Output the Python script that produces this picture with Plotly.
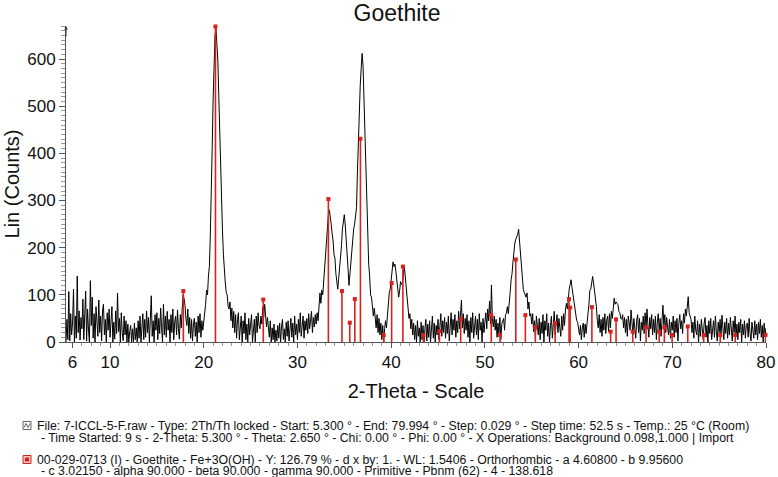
import numpy as np
import plotly.graph_objects as go

# ---- scan grid (from the header: start 5.300 deg); sampled every 0.1 deg for this redraw
scan_start = 5.3
scan_step = 0.1

counts = [
    0, 48, 5, 107, 2, 60, 15,                        # 5.3-5.9
    40, 112, 0, 55, 8, 140, 20, 66, 4, 52,           # 6
    28, 91, 5, 58, 108, 2, 70, 25, 0, 130,           # 7
    35, 95, 8, 60, 0, 75, 40, 12, 89, 20,            # 8
    55, 2, 68, 80, 15, 48, 0, 62, 25, 70,            # 9
    10, 58, 75, 0, 42, 6, 66, 18, 104, 22,           # 10
    50, 0, 62, 20, 3, 55, 15, 45, 0, 38,             # 11
    0, 22, 35, 0, 28, 0, 40, 5, 30, 0,               # 12
    45, 8, 55, 0, 38, 60, 5, 48, 10, 66,             # 13
    20, 52, 0, 70, 98, 12, 45, 0, 58, 25,            # 14
    62, 5, 50, 18, 72, 30, 0, 80, 15, 55,            # 15
    10, 65, 25, 48, 0, 58, 20, 70, 5, 42,            # 16
    55, 15, 68, 28, 6, 58, 30, 70, 100, 92,          # 17
    78, 50, 35, 70, 18, 52, 8, 48, 2, 38,            # 18
    50, 12, 42, 0, 55, 20, 60, 10, 45, 25,           # 19
    40, 62, 80, 110, 100, 140, 160, 225, 300, 410,   # 20
    514, 600, 650, 665, 640, 600, 525, 443, 370, 300,  # 21
    235, 185, 145, 125, 105, 100, 75, 70, 85, 45,    # 22
    72, 30, 65, 20, 58, 8, 48, 62, 5, 40,            # 23
    55, 0, 45, 18, 62, 5, 38, 0, 50, 15,             # 24
    40, 58, 0, 35, 48, 0, 55, 20, 62, 35,            # 25
    28, 55, 38, 75, 52, 80, 58, 32, 52, 20,          # 26
    10, 45, 0, 30, 5, 38, 0, 25, 2, 35,              # 27
    8, 40, 0, 32, 48, 5, 28, 0, 42, 12,              # 28
    45, 2, 35, 50, 10, 40, 0, 55, 15, 38,            # 29
    5, 48, 20, 62, 12, 40, 55, 8, 45, 25,            # 30
    50, 18, 60, 28, 45, 65, 20, 52, 32, 58,          # 31
    38, 62, 45, 80, 104, 82, 110, 100, 130, 155,     # 32
    200, 225, 260, 270, 280, 255, 250, 230, 215, 185,  # 33
    178, 145, 125, 112, 135, 155, 185, 205, 240, 262,  # 34
    270, 248, 222, 185, 155, 120, 145, 170, 200, 218,  # 35
    240, 250, 272, 285, 360, 440, 505, 545, 580, 612,  # 36
    585, 518, 415, 340, 275, 215, 165, 140, 100, 95,   # 37
    70, 55, 72, 45, 30, 58, 20, 50, 15, 40,          # 38
    5, 35, 0, 28, 45, 30, 60, 80, 105, 112,          # 39
    135, 145, 170, 160, 165, 150, 130, 100, 95, 108,  # 40
    128, 122, 125, 140, 160, 140, 118, 85, 70, 50,   # 41
    60, 28, 48, 15, 40, 5, 35, 0, 45, 12,            # 42
    30, 0, 42, 5, 35, 0, 28, 48, 2, 38,              # 43
    10, 45, 0, 32, 55, 8, 40, 0, 35, 15,             # 44
    48, 5, 38, 60, 12, 45, 20, 52, 8, 42,            # 45
    18, 55, 2, 40, 62, 15, 48, 25, 58, 10,           # 46
    45, 20, 65, 28, 55, 89, 30, 60, 18, 50,          # 47
    25, 58, 10, 45, 0, 52, 20, 62, 8, 40,            # 48
    55, 15, 48, 5, 60, 25, 42, 0, 50, 20,            # 49
    45, 62, 28, 70, 45, 87, 38, 121, 50, 32,         # 50
    55, 25, 48, 10, 40, 18, 52, 5, 38, 45,           # 51
    50, 25, 58, 61, 75, 60, 95, 105, 132, 145,       # 52
    170, 192, 210, 218, 222, 228, 239, 210, 190, 155,  # 53
    140, 112, 105, 100, 95, 104, 70, 85, 55, 60,     # 54
    38, 60, 22, 45, 10, 55, 28, 15, 50, 5,           # 55
    42, 18, 58, 0, 45, 25, 60, 12, 40, 0,            # 56
    35, 55, 8, 48, 65, 15, 42, 58, 20, 50,           # 57
    30, 12, 55, 25, 60, 35, 68, 82, 70, 95,          # 58
    112, 122, 132, 115, 102, 89, 70, 62, 45, 42,     # 59
    30, 15, 35, 5, 30, 40, 10, 38, 18, 50,           # 60
    60, 78, 110, 112, 130, 139, 125, 110, 85, 75,    # 61
    45, 30, 58, 20, 48, 12, 52, 25, 60, 18,          # 62
    45, 55, 22, 60, 30, 65, 50, 72, 93, 80,          # 63
    85, 82, 79, 65, 62, 50, 48, 58, 30, 52,          # 64
    20, 48, 12, 55, 30, 25, 68, 35, 15, 50,          # 65
    28, 8, 45, 58, 20, 50, 2, 42, 25, 55,            # 66
    18, 62, 30, 70, 35, 10, 52, 28, 58, 15,          # 67
    48, 20, 55, 5, 42, 60, 25, 50, 12, 65,           # 68
    78, 35, 58, 20, 52, 30, 15, 48, 8, 42,           # 69
    25, 55, 10, 45, 20, 50, 2, 40, 58, 28,           # 70
    45, 18, 60, 40, 70, 55, 85, 96, 62, 55,          # 71
    48, 20, 42, 8, 55, 25, 15, 45, 0, 38,            # 72
    12, 48, 20, 5, 40, 52, 10, 35, 0, 45,            # 73
    18, 50, 5, 38, 45, 10, 55, 22, 2, 42,            # 74
    20, 48, 10, 57, 25, 5, 42, 18, 50, 8,            # 75
    40, 15, 52, 25, 2, 45, 20, 55, 12, 38,           # 76
    5, 42, 20, 48, 0, 38, 15, 45, 8, 35,             # 77
    40, 10, 50, 18, 2, 42, 25, 8, 45, 15,            # 78
    38, 5, 42, 18, 48, 10, 35, 0, 40, 12,            # 79
    30,                                              # 80
]

# ---- reference pattern 00-029-0713 Goethite: stick positions (2-theta) and heights (counts)
stick_2theta = [17.82, 21.25, 26.35, 33.3, 34.75, 35.58, 36.12, 36.72, 39.2, 40.05,
                41.25, 43.45, 45.15, 47.42, 50.68, 51.62, 53.3, 54.32, 55.38, 57.5,
                58.98, 59.1, 61.42, 63.42, 64.0, 65.78, 67.2, 68.6, 69.15, 69.98,
                71.65, 73.35, 75.12, 76.72, 79.95]
stick_counts = [108, 669, 90, 303, 108, 41, 91, 431, 15, 125,
                160, 15, 23, 49, 57, 15, 175, 57, 31, 40,
                91, 73, 74, 22, 48, 22, 31, 22, 31, 15,
                33, 15, 15, 15, 15]

x_tick_vals = [6, 10, 20, 30, 40, 50, 60, 70, 80]
y_tick_vals = [0, 100, 200, 300, 400, 500, 600]

info_lines = [
    "File: 7-ICCL-5-F.raw - Type: 2Th/Th locked - Start: 5.300 ° - End: 79.994 ° - Step: 0.029 ° - Step time: 52.5 s - Temp.: 25 °C (Room)",
    "- Time Started: 9 s - 2-Theta: 5.300 ° - Theta: 2.650 ° - Chi: 0.00 ° - Phi: 0.00 ° - X Operations: Background 0.098,1.000 | Import",
    "00-029-0713 (I) - Goethite - Fe+3O(OH) - Y: 126.79 % - d x by: 1. - WL: 1.5406 - Orthorhombic - a 4.60800 - b 9.95600",
    "- c 3.02150 - alpha 90.000 - beta 90.000 - gamma 90.000 - Primitive - Pbnm (62) - 4 - 138.618",
]

two_theta = np.round(scan_start + scan_step * np.arange(len(counts)), 2)

FONT = "Liberation Sans, Arial, Helvetica, sans-serif"
RED = "#d8221c"

fig = go.Figure()
fig.add_trace(go.Scatter(
    x=two_theta, y=counts, mode="lines",
    line=dict(color="black", width=1), hoverinfo="skip", showlegend=False))
fig.add_trace(go.Scatter(
    x=stick_2theta, y=stick_counts, mode="markers",
    marker=dict(symbol="square", size=4, color=RED),
    error_y=dict(type="data", symmetric=False, array=[0] * len(stick_counts),
                 arrayminus=stick_counts, color=RED, thickness=1.6, width=0),
    cliponaxis=False, showlegend=False))

# plot geometry in pixels (page coordinates)
L, R, T, B = 66, 12, 26, 135
W, H = 778, 477
pw, ph = W - L - R, H - T - B

def px(xp):
    return (xp - L) / pw

def py(yp):
    return (H - B - yp) / ph

annotations = []
annotations.append(dict(xref="paper", yref="paper", x=0, y=1.0, ax=0, ay=12,
                        text="", showarrow=True, arrowhead=2, arrowsize=0.7,
                        arrowwidth=1, arrowcolor="#333"))
starts = [35, 39, 35, 39]
ys = [425.5, 437.5, 459.5, 471]
for txt, xs, yv in zip(info_lines, starts, ys):
    annotations.append(dict(xref="paper", yref="paper", x=px(xs), y=py(yv),
                            xanchor="left", yanchor="middle", text=txt,
                            showarrow=False, font=dict(family=FONT, size=12.3, color="#111")))

shapes = [
    dict(type="rect", xref="paper", yref="paper", x0=px(23), x1=px(31), y0=py(429.5), y1=py(421.5),
         line=dict(color="#666", width=1), fillcolor="white"),
    dict(type="path", xref="paper", yref="paper",
         path=f"M {px(24)},{py(427.5)} L {px(26)},{py(423.5)} L {px(28)},{py(427.5)} L {px(30)},{py(423.5)}",
         line=dict(color="#666", width=1)),
    dict(type="rect", xref="paper", yref="paper", x0=px(23), x1=px(31), y0=py(463.5), y1=py(455.5),
         line=dict(color=RED, width=1), fillcolor="#f4c8c6"),
    dict(type="rect", xref="paper", yref="paper", x0=px(25), x1=px(29), y0=py(461.5), y1=py(457.5),
         line=dict(width=0), fillcolor=RED),
]

fig.update_layout(
    width=W, height=H,
    margin=dict(l=L, r=R, t=T, b=B, autoexpand=False),
    paper_bgcolor="white", plot_bgcolor="white",
    font=dict(family=FONT, color="#111"),
    title=dict(text="Goethite", x=px(397), xref="paper", y=1 - 13 / H, yref="container",
               xanchor="center", yanchor="middle", font=dict(family=FONT, size=23, color="#111")),
    xaxis=dict(range=[5.3, 80.0], tickmode="array", tickvals=x_tick_vals,
               ticks="outside", ticklen=5, tickcolor="#555", showline=True,
               linecolor="#555", linewidth=1, showgrid=False, zeroline=False,
               tickfont=dict(family=FONT, size=17, color="#111"),
               minor=dict(tickmode="linear", tick0=0, dtick=1, ticks="outside",
                          ticklen=3, tickcolor="#999", showgrid=False),
               title=dict(text="2-Theta - Scale", standoff=12,
                          font=dict(family=FONT, size=20, color="#111"))),
    yaxis=dict(range=[0, 670], tickmode="array", tickvals=y_tick_vals,
               ticks="outside", ticklen=6, tickcolor="#555", showline=True,
               linecolor="#555", linewidth=1, showgrid=False, zeroline=False,
               tickfont=dict(family=FONT, size=17, color="#111"),
               minor=dict(tickmode="linear", tick0=0, dtick=10, ticks="outside",
                          ticklen=4, tickcolor="#999", showgrid=False),
               title=dict(text="Lin (Counts)", standoff=2,
                          font=dict(family=FONT, size=20, color="#111"))),
    annotations=annotations,
    shapes=shapes,
)

# the page body has a default 8px margin; remove it so the figure sits at the window origin
fig.write_html("out.html", config={"displayModeBar": False},
               post_script="document.body.style.margin='0';")
